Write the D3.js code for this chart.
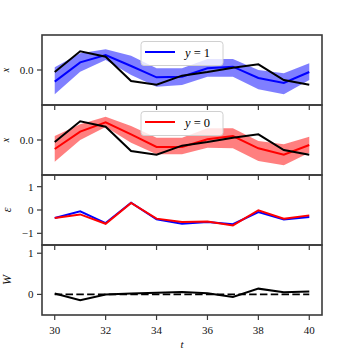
<!DOCTYPE html>
<html><head><meta charset="utf-8">
<script src="https://cdn.jsdelivr.net/npm/d3@7"></script>
<style>body{margin:0;background:#fff}svg{display:block}text{font-family:"Liberation Serif","Times New Roman","DejaVu Serif",serif}</style>
</head><body>
<script>
const t = [30,31,32,33,34,35,36,37,38,39,40];
const blueMean  = [-0.35, 0.23, 0.45, 0.12, -0.22, -0.20, 0.05, 0.10, -0.24, -0.39, -0.06];
const blueUpper = [0.08, 0.50, 0.62, 0.43, 0.05, 0.05, 0.33, 0.33, 0.00, -0.10, 0.20];
const blueLower = [-0.73, -0.05, 0.30, -0.15, -0.50, -0.45, -0.20, -0.20, -0.58, -0.73, -0.30];
const redMean   = [-0.27, 0.25, 0.53, 0.17, -0.21, -0.21, 0.02, 0.12, -0.25, -0.44, -0.15];
const redUpper  = [0.12, 0.47, 0.70, 0.42, 0.07, 0.07, 0.35, 0.35, -0.03, -0.13, 0.10];
const redLower  = [-0.65, 0.00, 0.39, -0.08, -0.43, -0.43, -0.23, -0.25, -0.63, -0.76, -0.38];
const observed  = [-0.06, 0.56, 0.40, -0.33, -0.44, -0.17, -0.06, 0.07, 0.17, -0.30, -0.44];
const epsBlue   = [-0.34, -0.06, -0.56, 0.31, -0.40, -0.59, -0.51, -0.61, -0.09, -0.41, -0.30];
const epsRed    = [-0.34, -0.19, -0.59, 0.30, -0.37, -0.51, -0.49, -0.66, -0.01, -0.37, -0.23];
const wVals     = [0.02, -0.14, 0.00, 0.02, 0.04, 0.06, 0.03, -0.06, 0.14, 0.05, 0.07];
const wRef      = [0,0,0,0,0,0,0,0,0,0,0];
const xTicks = [30,32,34,36,38,40];

const W = 350, H = 350;
const L = 42, R = 322, T0 = 35, PH = 70;
const svg = d3.select("body").append("svg").attr("width", W).attr("height", H);
const x = d3.scaleLinear().domain([29.5, 40.5]).range([L, R]);
const spineCol = "#3a3a3a";

const panels = [
  {dom:[-1.05,1.05], ticks:[0], fmt:d3.format(".1f"), label:"x"},
  {dom:[-1.05,1.05], ticks:[0], fmt:d3.format(".1f"), label:"x"},
  {dom:[-1.5,1.5], ticks:[-1,0,1], fmt:d=>d<0?"\u2212"+Math.abs(d):String(d), label:"\u03b5"},
  {dom:[-0.5,1.2], ticks:[0,1], fmt:d=>String(d), label:"W"}
];

panels.forEach((p,i)=>{
  const top = T0 + i*PH;
  p.y = d3.scaleLinear().domain(p.dom).range([top+PH, top]);
  p.top = top;
  p.g = svg.append("g");
});

function band(p, up, lo, col){
  const area = d3.area().x((d,i)=>x(t[i])).y0((d,i)=>p.y(lo[i])).y1((d,i)=>p.y(up[i]));
  p.g.append("path").datum(up).attr("d", area).attr("fill", col).attr("fill-opacity", 0.5).attr("stroke","none");
}
function line(p, vals, col, w, dash){
  const ln = d3.line().x((d,i)=>x(t[i])).y(d=>p.y(d));
  const el = p.g.append("path").datum(vals).attr("d", ln).attr("fill","none")
    .attr("stroke", col).attr("stroke-width", w).attr("stroke-linejoin","miter");
  if (dash) el.attr("stroke-dasharray", dash);
}
function legend(p, col, txt){
  const lg = p.g.append("g");
  const bx = 141, by = p.top + 6.5, bw = 82, bh = 24;
  lg.append("rect").attr("x",bx).attr("y",by).attr("width",bw).attr("height",bh)
    .attr("rx",3).attr("fill","#fff").attr("fill-opacity",0.8).attr("stroke","#d0d0d0").attr("stroke-width",1);
  lg.append("line").attr("x1",145).attr("x2",175).attr("y1",by+10.5).attr("y2",by+10.5)
    .attr("stroke",col).attr("stroke-width",2);
  const tx = lg.append("text").attr("x",185).attr("y",by+15.5).attr("font-size",12.5).attr("fill","#000");
  tx.append("tspan").attr("font-style","italic").text("y");
  tx.append("tspan").text(" = " + txt);
}

band(panels[0], blueUpper, blueLower, "#0000ff");
line(panels[0], blueMean, "#0000ff", 2);
line(panels[0], observed, "#000", 2);
legend(panels[0], "#0000ff", "1");
band(panels[1], redUpper, redLower, "#ff0000");
line(panels[1], redMean, "#ff0000", 2);
line(panels[1], observed, "#000", 2);
legend(panels[1], "#ff0000", "0");
line(panels[2], epsBlue, "#0000ff", 2);
line(panels[2], epsRed, "#ff0000", 2);
line(panels[3], wRef, "#000", 1.8, "7.5,3.3");
line(panels[3], wVals, "#000", 2);

panels.forEach((p,i)=>{
  const g = svg.append("g");
  p.ticks.forEach(v=>{
    const yy = p.y(v);
    g.append("line").attr("x1",L-5).attr("x2",L).attr("y1",yy).attr("y2",yy).attr("stroke",spineCol).attr("stroke-width",1.2);
    g.append("text").attr("x",L-8.5).attr("y",yy).attr("dy","0.35em").attr("text-anchor","end")
      .attr("font-size",11).attr("fill","#111").text(p.fmt(v));
  });
  xTicks.forEach(v=>{
    g.append("line").attr("x1",x(v)).attr("x2",x(v)).attr("y1",p.top+PH).attr("y2",p.top+PH+5)
      .attr("stroke",spineCol).attr("stroke-width",1.2);
  });
  const ly = p.top + PH/2;
  g.append("text").attr("transform",`translate(${i<2?9:11},${ly}) rotate(-90)`).attr("text-anchor","middle")
    .attr("font-style","italic").attr("font-size",i<2?10:12).attr("fill","#111").text(p.label);
  g.append("rect").attr("x",L).attr("y",p.top).attr("width",R-L).attr("height",PH)
    .attr("fill","none").attr("stroke",spineCol).attr("stroke-width",1.6);
});

xTicks.forEach(v=>{
  svg.append("text").attr("x",x(v)).attr("y",334).attr("text-anchor","middle")
    .attr("font-size",11).attr("fill","#111").text(v);
});
svg.append("text").attr("x",(L+R)/2).attr("y",347.5).attr("text-anchor","middle")
  .attr("font-style","italic").attr("font-size",11).attr("fill","#111").text("t");
</script>
</body></html>
